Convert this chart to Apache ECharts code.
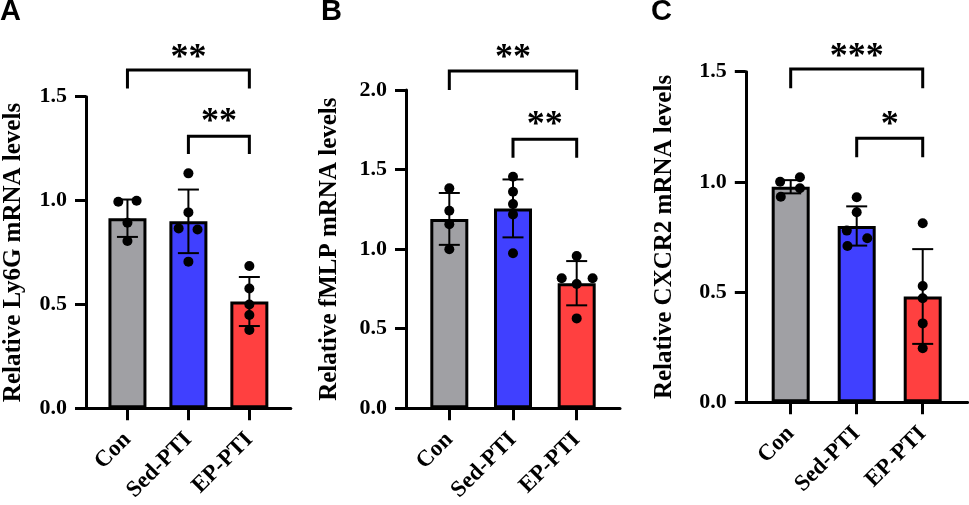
<!DOCTYPE html>
<html><head><meta charset="utf-8">
<script src="https://cdn.jsdelivr.net/npm/echarts@6/dist/echarts.min.js"></script>
<style>html,body{margin:0;padding:0;background:#fff}#c{width:969px;height:505px}</style>
</head><body><div id="c"></div>
<script>
// ---------- data ----------
const categories = ['Con', 'Sed-PTI', 'EP-PTI'];
const panelLetters = ['A', 'B', 'C'];
const yTitles = ['Relative Ly6G mRNA levels', 'Relative fMLP mRNA levels', 'Relative CXCR2 mRNA levels'];
const yMax = [1.5, 2.0, 1.5];

const aMeans = [0.915, 0.900, 0.514];
const aSD = [0.090, 0.153, 0.118];
const aPoints = [[0.994, 0.999, 0.893, 0.805], [1.131, 0.943, 0.866, 0.861, 0.706], [0.685, 0.577, 0.500, 0.449, 0.377]];
const aJitter = [[-0.15, 0.15, 0, 0], [0, 0, -0.16, 0.15, 0], [0, 0, 0, 0, 0]];
const aBrackets = [[0, 2, 1.628, 1.54, '**', 1.724], [1, 2, 1.31, 1.224, '**', 1.416]];

const bMeans = [1.190, 1.256, 0.786];
const bSD = [0.163, 0.182, 0.139];
const bPoints = [[1.382, 1.241, 1.156, 0.999], [1.455, 1.361, 1.283, 1.218, 0.974], [0.957, 0.817, 0.817, 0.781, 0.565]];
const bJitter = [[0, 0, 0, 0], [0, 0, 0, 0, 0], [0, -0.235, 0.25, 0, 0]];
const bBrackets = [[0, 2, 2.119, 2.0, '**', 2.251], [1, 2, 1.691, 1.574, '**', 1.832]];

const cMeans = [0.978, 0.800, 0.480];
const cSD = [0.030, 0.089, 0.215];
const cPoints = [[1.001, 1.021, 0.933, 0.971], [0.930, 0.862, 0.779, 0.744, 0.709], [0.812, 0.528, 0.472, 0.358, 0.245]];
const cJitter = [[-0.16, 0.14, -0.15, 0.14], [0, 0, -0.15, 0.16, -0.14], [0, 0, 0, 0, 0]];
const cBrackets = [[0, 2, 1.512, 1.425, '***', 1.606], [1, 2, 1.198, 1.112, '*', 1.296]];

// ---------- styles / layout ----------
const barColors = ['#a0a0a4', '#4040ff', '#ff4040'];
const grids = [
  { left: 82, top: 96.7, width: 208.8, height: 311.6 },
  { left: 406, top: 90, width: 214, height: 318.3 },
  { left: 745.8, top: 71.7, width: 221.8, height: 330.6 }
];
const nameGaps = [60, 64, 69];
const serif = '"Liberation Serif", "Times New Roman", serif';
const starSize = 36;

const panels = [
  { means: aMeans, sd: aSD, points: aPoints, jitter: aJitter, brackets: aBrackets },
  { means: bMeans, sd: bSD, points: bPoints, jitter: bJitter, brackets: bBrackets },
  { means: cMeans, sd: cSD, points: cPoints, jitter: cJitter, brackets: cBrackets }
];

const option = {
  animation: false,
  backgroundColor: '#fff',
  grid: grids.map(g => Object.assign({ containLabel: false }, g)),
  xAxis: grids.map((g, i) => ({
    type: 'value', gridIndex: i, min: -0.68, max: 2.68,
    splitLine: { show: false },
    axisLine: { show: true, onZero: false, lineStyle: { color: '#000', width: 3 } },
    axisTick: { show: true, customValues: [0, 1, 2], length: 12, lineStyle: { color: '#000', width: 3 } },
    axisLabel: {
      customValues: [0, 1, 2], rotate: 45, margin: 28,
      formatter: v => categories[Math.round(v)],
      fontFamily: serif, fontWeight: 'bold', fontSize: 23, color: '#000'
    }
  })),
  yAxis: grids.map((g, i) => ({
    type: 'value', gridIndex: i, min: 0, max: yMax[i], interval: 0.5,
    name: yTitles[i], nameLocation: 'middle', nameRotate: 90, nameGap: nameGaps[i],
    nameTextStyle: { fontFamily: serif, fontWeight: 'bold', fontSize: 25, color: '#000' },
    splitLine: { show: false },
    axisLine: { show: true, onZero: false, lineStyle: { color: '#000', width: 3 } },
    axisTick: { show: true, length: 11, lineStyle: { color: '#000', width: 3 } },
    axisLabel: {
      margin: 19, formatter: v => v.toFixed(1),
      fontFamily: serif, fontWeight: 'bold', fontSize: 22, color: '#000'
    }
  })),
  graphic: panelLetters.map((t, i) => ({
    type: 'text', left: [0, 321, 651][i], top: -3,
    style: { text: t, font: 'bold 29px "Liberation Sans", Arial, sans-serif', fill: '#000' }
  })),
  series: []
};

panels.forEach((p, i) => {
  // bars
  option.series.push({
    type: 'bar', xAxisIndex: i, yAxisIndex: i, barWidth: 38, z: 2,
    data: p.means.map((m, k) => ({
      value: [k, m],
      itemStyle: { color: barColors[k], borderColor: '#000', borderWidth: 3 }
    }))
  });
  // error bars
  option.series.push({
    type: 'custom', xAxisIndex: i, yAxisIndex: i, z: 3,
    data: p.means.map((m, k) => [k, m, p.sd[k]]),
    renderItem: (params, api) => {
      const x = api.value(0), m = api.value(1), s = api.value(2);
      const top = api.coord([x, m + s]), bot = api.coord([x, m - s]);
      const cap = 10.5;
      const st = { stroke: '#000', lineWidth: 2 };
      return {
        type: 'group', children: [
          { type: 'line', shape: { x1: top[0], y1: top[1], x2: bot[0], y2: bot[1] }, style: st },
          { type: 'line', shape: { x1: top[0] - cap, y1: top[1], x2: top[0] + cap, y2: top[1] }, style: st },
          { type: 'line', shape: { x1: bot[0] - cap, y1: bot[1], x2: bot[0] + cap, y2: bot[1] }, style: st }
        ]
      };
    }
  });
  // dots
  const dots = [];
  p.points.forEach((arr, k) => arr.forEach((v, j) => dots.push([k + p.jitter[k][j], v])));
  option.series.push({
    type: 'scatter', xAxisIndex: i, yAxisIndex: i, z: 4,
    symbol: 'circle', symbolSize: 10, itemStyle: { color: '#000', opacity: 1 },
    data: dots
  });
  // significance brackets
  option.series.push({
    type: 'custom', xAxisIndex: i, yAxisIndex: i, z: 5, clip: false,
    data: p.brackets.map(b => [b[0], b[1], b[2], b[3], b[5]]),
    renderItem: (params, api) => {
      const b = p.brackets[params.dataIndex];
      const a1 = api.coord([b[0], b[3]]), a2 = api.coord([b[0], b[2]]);
      const a3 = api.coord([b[1], b[2]]), a4 = api.coord([b[1], b[3]]);
      const t = api.coord([(b[0] + b[1]) / 2, b[5]]);
      return {
        type: 'group', children: [
          { type: 'polyline', shape: { points: [a1, a2, a3, a4] }, style: { stroke: '#000', lineWidth: 3, fill: null } },
          { type: 'text', style: { text: b[4], x: t[0], y: t[1] + starSize * 0.25, align: 'center', verticalAlign: 'middle', font: 'bold ' + starSize + 'px ' + serif, fill: '#000' } }
        ]
      };
    }
  });
});

const chart = echarts.init(document.getElementById('c'), null, { renderer: 'canvas' });
chart.setOption(option);
</script>
</body></html>
